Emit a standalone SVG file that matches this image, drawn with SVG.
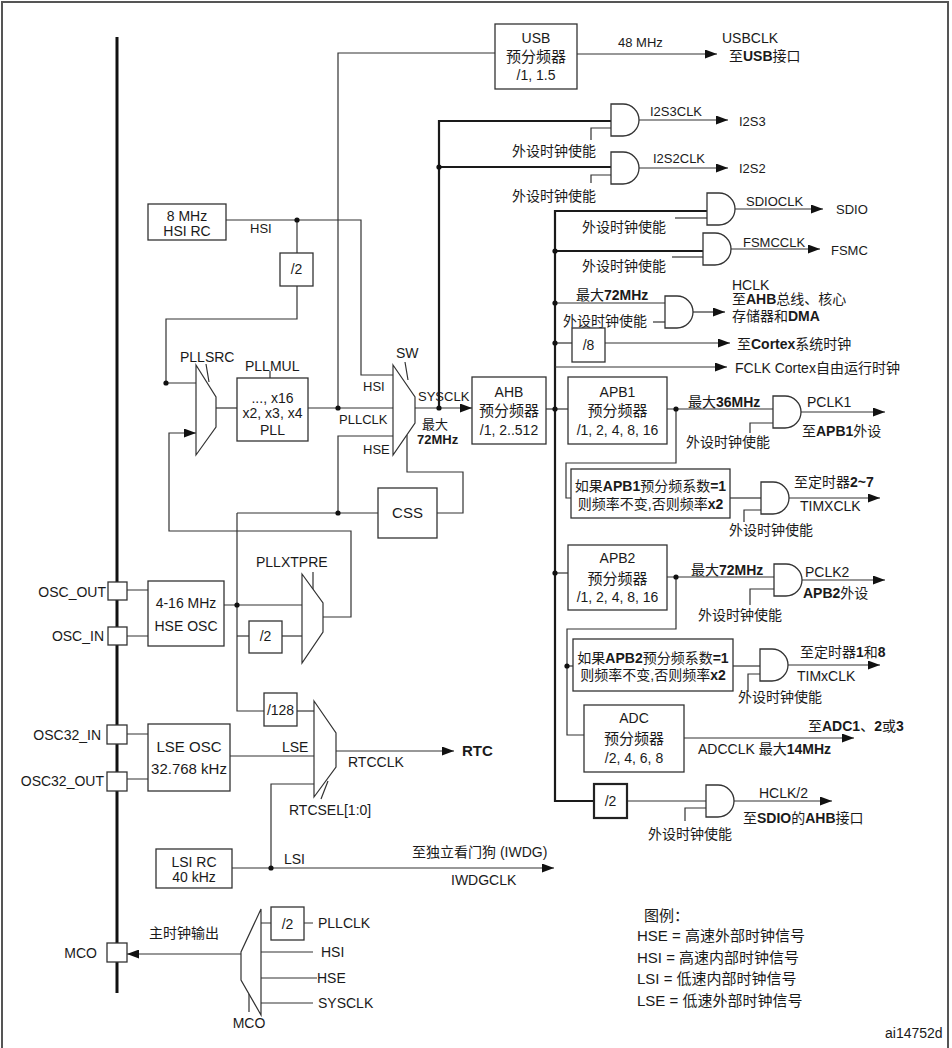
<svg xmlns="http://www.w3.org/2000/svg" width="952" height="1048" viewBox="0 0 952 1048">
<style>
text{font-family:"Liberation Sans","Noto Sans CJK SC",sans-serif;fill:#1a1a1a;font-size:14px}
.s13{font-size:13px}
.s15{font-size:15px}
.b{font-weight:bold}
.m{text-anchor:middle}
.e{text-anchor:end}
.box{fill:#fff;stroke:#333;stroke-width:1.3}
.w{fill:none;stroke:#333;stroke-width:1.2}
.tk{fill:none;stroke:#1a1a1a;stroke-width:2.2}
.a{marker-end:url(#ar)}
.dot{fill:#111}
.g{fill:#fff;stroke:#333;stroke-width:1.3}
.mux{fill:#fff;stroke:#333;stroke-width:1.2}
</style>
<defs>
<marker id="ar" markerUnits="userSpaceOnUse" markerWidth="12" markerHeight="9" refX="12" refY="4.5" orient="auto" viewBox="0 0 12 9"><path d="M0,0 L12,4.5 L0,9 Z" fill="#111"/></marker>
<path id="and" d="M0,-16 H12 A16,16 0 0 1 12,16 H0 Z"/>
</defs>
<rect width="952" height="1048" fill="#fff"/>
<path d="M2,1048 V2 H948 V1048" fill="none" stroke="#555" stroke-width="2"/>
<line x1="117" y1="37" x2="117" y2="993" stroke="#111" stroke-width="3"/>

<g id="connectors">
<path class="w" d="M226,220 H361 V375 H393"/>
<path class="w" d="M297,220 V253"/>
<path class="w" d="M297,286 V319 H166 V383 H196"/>
<path class="w" d="M216,408 H237"/>
<path class="w" d="M308,408 H393"/>
<path class="w" d="M338,408 V53 H495"/>
<path class="w" d="M393,436 H338 V513"/>
<path class="w" d="M237,513 H378"/>
<path class="w" d="M237,513 V711 H264"/>
<path class="w" d="M224,605 H302"/>
<path class="w" d="M237,636 H249"/>
<path class="w" d="M282,636 H302"/>
<path class="w a" d="M323,617 H351 V531 H169 V433 H196"/>
<path class="w" d="M407,435 V472 H463 V513 H437"/>
<path class="w a" d="M415,408 H472"/>
<path class="tk" d="M439,408 V121 H611"/>
<path class="tk" d="M439,167 H611"/>
<path class="w a" d="M577,54 H717"/>
<path class="w" d="M591,140 V128 H611"/>
<path class="w" d="M591,183 V175 H611"/>
<path class="w a" d="M639,120 H728"/>
<path class="w a" d="M639,168 H728"/>
<path class="tk" d="M707,211 H555 V801 H594"/>
<path class="tk" d="M555,251 H703"/>
<path class="w" d="M675,218 H707"/>
<path class="w" d="M672,257 H703"/>
<path class="w a" d="M735,209 H823"/>
<path class="w a" d="M731,249 H820"/>
<path class="w" d="M555,303 H665"/>
<path class="w" d="M653,322 H665"/>
<path class="w a" d="M693,312 H725"/>
<path class="w" d="M555,343 H572"/>
<path class="w a" d="M605,343 H730"/>
<path class="w a" d="M555,367 H727"/>
<path class="w" d="M546,409 H568"/>
<path class="w" d="M667,409 H773"/>
<path class="w" d="M750,433 V423 H773"/>
<path class="w a" d="M801,412 H885"/>
<path class="w" d="M676,409 V463 H566 V498 H571"/>
<path class="w" d="M730,498 H761"/>
<path class="w" d="M744,522 V510 H761"/>
<path class="w a" d="M789,498 H880"/>
<path class="w" d="M555,573 H568"/>
<path class="w" d="M667,577 H774"/>
<path class="w" d="M750,605 V589 H774"/>
<path class="w a" d="M802,580 H885"/>
<path class="w" d="M676,577 V629 H567 V735 H584"/>
<path class="w" d="M567,666 H573"/>
<path class="w" d="M733,666 H760"/>
<path class="w" d="M748,692 V674 H760"/>
<path class="w a" d="M788,665 H880"/>
<path class="w a" d="M684,738 H854"/>
<path class="w" d="M627,801 H706"/>
<path class="w" d="M685,821 V808 H706"/>
<path class="w a" d="M734,801 H832"/>
<path class="w" d="M127,590 H148 M127,636 H148 M127,734 H148 M127,779 H148"/>
<path class="w" d="M230,756 H314"/>
<path class="w" d="M297,711 H314"/>
<path class="w a" d="M336,751 H454"/>
<path class="w a" d="M232,868 H554"/>
<path class="w" d="M271,868 V784 H314"/>
<path class="w a" d="M241,954 H127"/>
<path class="w" d="M261,923 H271 M304,923 H313 M261,952 H313 M261,978 H317 M261,1003 H313"/>
<path class="w" d="M270,378 V371 M206,364 L209,382 M405,362 L408,380 M313,572 V590 M321,799 L328,781 M249,994 V1012"/>
<circle class="dot" cx="297" cy="220" r="2.6"/>
<circle class="dot" cx="166" cy="383" r="2.6"/>
<circle class="dot" cx="338" cy="408" r="2.6"/>
<circle class="dot" cx="338" cy="513" r="2.6"/>
<circle class="dot" cx="237" cy="605" r="2.6"/>
<circle class="dot" cx="439" cy="408" r="2.6"/>
<circle class="dot" cx="439" cy="167" r="2.6"/>
<circle class="dot" cx="555" cy="251" r="2.6"/>
<circle class="dot" cx="555" cy="303" r="2.6"/>
<circle class="dot" cx="555" cy="343" r="2.6"/>
<circle class="dot" cx="555" cy="409" r="2.6"/>
<circle class="dot" cx="676" cy="409" r="2.6"/>
<circle class="dot" cx="555" cy="573" r="2.6"/>
<circle class="dot" cx="676" cy="577" r="2.6"/>
<circle class="dot" cx="567" cy="666" r="2.6"/>
<circle class="dot" cx="271" cy="868" r="2.6"/>
</g>

<g id="usb"><rect class="box" x="495" y="24" width="82" height="65"/>
<text class="m" x="536" y="43">USB</text><text class="m s15" x="536" y="62">预分频器</text><text class="m" x="536" y="80">/1, 1.5</text></g>
<g id="usb-out"><text class="s13" x="618" y="47">48 MHz</text><text x="722" y="43">USBCLK</text><text x="729" y="61">至<tspan class="b">USB</tspan>接口</text></g>

<g id="i2s3"><use href="#and" x="611" y="120" class="g"/><text class="s13" x="650" y="116">I2S3CLK</text><text class="s13" x="739" y="126">I2S3</text><text x="512" y="156">外设时钟使能</text></g>
<g id="i2s2"><use href="#and" x="611" y="168" class="g"/><text class="s13" x="653" y="163">I2S2CLK</text><text class="s13" x="739" y="173">I2S2</text><text x="512" y="201">外设时钟使能</text></g>
<g id="sdio"><use href="#and" x="707" y="209" class="g"/><text class="s13" x="746" y="206">SDIOCLK</text><text class="s13" x="836" y="214">SDIO</text><text x="582" y="232">外设时钟使能</text></g>
<g id="fsmc"><use href="#and" x="703" y="249" class="g"/><text class="s13" x="743" y="247">FSMCCLK</text><text class="s13" x="831" y="255">FSMC</text><text x="582" y="271">外设时钟使能</text></g>
<g id="hclk"><use href="#and" x="665" y="312" class="g"/><text x="576" y="300">最大<tspan class="b">72MHz</tspan></text><text x="563" y="326">外设时钟使能</text>
<text x="732" y="290">HCLK</text><text x="732" y="304">至<tspan class="b">AHB</tspan>总线、核心</text><text x="732" y="321">存储器和<tspan class="b">DMA</tspan></text></g>
<g id="div8"><rect class="box" x="572" y="328" width="33" height="34"/><text class="m" x="588.5" y="350">/8</text><text x="737" y="349">至<tspan class="b">Cortex</tspan>系统时钟</text></g>
<g id="fclk"><text x="735" y="373">FCLK Cortex自由运行时钟</text></g>

<g id="hsirc"><rect class="box" x="148" y="204" width="78" height="36"/><text class="m" x="187" y="221">8 MHz</text><text class="m" x="187" y="236">HSI RC</text><text class="s13" x="250" y="233">HSI</text></g>
<g id="hsidiv2"><rect class="box" x="280" y="253" width="33" height="33"/><text class="m" x="296.5" y="274">/2</text></g>
<g id="pllsrc"><path class="mux" d="M196,365 L216,397 V427 L196,455 Z"/><text x="180" y="362">PLLSRC</text></g>
<g id="pll"><rect class="box" x="237" y="378" width="71" height="63"/><text class="m" x="272.5" y="403">..., x16</text><text class="m" x="272.5" y="418">x2, x3, x4</text><text class="m" x="272.5" y="435">PLL</text><text x="245" y="371">PLLMUL</text></g>
<g id="sw"><path class="mux" d="M393,365 L415,397 V423 L393,455 Z"/><text x="396" y="358">SW</text>
<text class="s13" x="363" y="391">HSI</text><text class="s13" x="339" y="424">PLLCLK</text><text class="s13" x="363" y="454">HSE</text>
<text class="s13" x="418" y="401">SYSCLK</text><text class="s13" x="422" y="429">最大</text><text class="s13 b" x="417" y="444">72MHz</text></g>
<g id="css"><rect class="box" x="378" y="488" width="59" height="50"/><text class="m s15" x="407.5" y="518">CSS</text></g>

<g id="ahb"><rect class="box" x="472" y="377" width="74" height="67"/><text class="m" x="509" y="397">AHB</text><text class="m s15" x="509" y="416">预分频器</text><text class="m" x="509" y="435">/1, 2..512</text></g>
<g id="apb1"><rect class="box" x="568" y="377" width="99" height="67"/><text class="m" x="617.5" y="397">APB1</text><text class="m s15" x="617.5" y="416">预分频器</text><text class="m" x="617.5" y="435">/1, 2, 4, 8, 16</text></g>
<g id="pclk1"><use href="#and" x="773" y="412" class="g"/><text x="688" y="407">最大<tspan class="b">36MHz</tspan></text><text x="807" y="407">PCLK1</text><text x="802" y="436">至<tspan class="b">APB1</tspan>外设</text><text x="686" y="447">外设时钟使能</text></g>
<g id="tim1sel"><rect class="box" x="571" y="469" width="159" height="49"/><text class="m" x="650.5" y="491">如果<tspan class="b">APB1</tspan>预分频系数<tspan class="b">=1</tspan></text><text class="m" x="650.5" y="509">则频率不变,否则频率<tspan class="b">x2</tspan></text></g>
<g id="tim27"><use href="#and" x="761" y="498" class="g"/><text x="794" y="487">至定时器<tspan class="b">2~7</tspan></text><text x="800" y="511">TIMXCLK</text><text x="729" y="535">外设时钟使能</text></g>

<g id="hseosc"><rect class="box" x="148" y="581" width="76" height="65"/><text class="m" x="186" y="608">4-16 MHz</text><text class="m" x="186" y="631">HSE OSC</text></g>
<g id="osc-pins"><rect class="box" x="108" y="582" width="19" height="18"/><rect class="box" x="108" y="627" width="19" height="18"/><text class="e" x="106" y="597">OSC_OUT</text><text class="e" x="104" y="641">OSC_IN</text></g>
<g id="pllxtpre"><path class="mux" d="M302,574 L323,603 V632 L302,663 Z"/><text x="256" y="567">PLLXTPRE</text></g>
<g id="hsediv2"><rect class="box" x="249" y="621" width="33" height="32"/><text class="m" x="265.5" y="641">/2</text></g>

<g id="apb2"><rect class="box" x="568" y="545" width="99" height="65"/><text class="m" x="617.5" y="563">APB2</text><text class="m s15" x="617.5" y="584">预分频器</text><text class="m" x="617.5" y="602">/1, 2, 4, 8, 16</text></g>
<g id="pclk2"><use href="#and" x="774" y="580" class="g"/><text x="691" y="575">最大<tspan class="b">72MHz</tspan></text><text x="805" y="577">PCLK2</text><text x="803" y="598"><tspan class="b">APB2</tspan>外设</text><text x="698" y="620">外设时钟使能</text></g>
<g id="tim2sel"><rect class="box" x="573" y="639" width="160" height="52"/><text class="m" x="653" y="663">如果<tspan class="b">APB2</tspan>预分频系数<tspan class="b">=1</tspan></text><text class="m" x="653" y="680">则频率不变,否则频率<tspan class="b">x2</tspan></text></g>
<g id="tim18"><use href="#and" x="760" y="665" class="g"/><text x="800" y="657">至定时器<tspan class="b">1</tspan>和<tspan class="b">8</tspan></text><text x="797" y="681">TIMxCLK</text><text x="738" y="702">外设时钟使能</text></g>
<g id="adc"><rect class="box" x="584" y="705" width="100" height="67"/><text class="m" x="634" y="723">ADC</text><text class="m s15" x="634" y="744">预分频器</text><text class="m" x="634" y="763">/2, 4, 6, 8</text>
<text x="808" y="731">至<tspan class="b">ADC1</tspan>、<tspan class="b">2</tspan>或<tspan class="b">3</tspan></text><text x="698" y="754">ADCCLK  最大<tspan class="b">14MHz</tspan></text></g>
<g id="hclkdiv2"><rect x="594" y="784" width="33" height="34" fill="#fff" stroke="#222" stroke-width="2.2"/><text class="m" x="610.5" y="806">/2</text></g>
<g id="hclk2"><use href="#and" x="706" y="801" class="g"/><text x="759" y="798">HCLK/2</text><text x="743" y="823">至<tspan class="b">SDIO</tspan>的<tspan class="b">AHB</tspan>接口</text><text x="648" y="839">外设时钟使能</text></g>

<g id="div128"><rect class="box" x="264" y="693" width="33" height="33"/><text class="m" x="280.5" y="715">/128</text></g>
<g id="lseosc"><rect class="box" x="148" y="724" width="82" height="67"/><text class="m s15" x="189" y="752">LSE OSC</text><text class="m s15" x="189" y="774">32.768 kHz</text><text x="282" y="752">LSE</text></g>
<g id="osc32-pins"><rect class="box" x="107" y="725" width="20" height="19"/><rect class="box" x="107" y="772" width="20" height="19"/><text class="e" x="101" y="740">OSC32_IN</text><text class="e" x="104" y="786">OSC32_OUT</text></g>
<g id="rtcmux"><path class="mux" d="M314,701 L336,733 V767 L314,797 Z"/><text x="348" y="767">RTCCLK</text><text class="b s15" x="462" y="756">RTC</text><text x="289" y="815">RTCSEL[1:0]</text></g>
<g id="lsirc"><rect class="box" x="156" y="849" width="76" height="39"/><text class="m" x="194" y="867">LSI RC</text><text class="m" x="194" y="882">40 kHz</text><text x="284" y="864">LSI</text>
<text x="412" y="857">至独立看门狗 (IWDG)</text><text x="451" y="885">IWDGCLK</text></g>

<g id="mco"><rect class="box" x="107" y="943" width="20" height="19"/><text class="e" x="97" y="958">MCO</text><text x="149" y="938">主时钟输出</text>
<path class="mux" d="M261,909 L241,952 V980 L261,1015 Z"/>
<rect class="box" x="271" y="907" width="33" height="33"/><text class="m" x="287.5" y="929">/2</text>
<text x="318" y="928">PLLCLK</text><text x="321" y="957">HSI</text><text x="317" y="983">HSE</text><text x="318" y="1008">SYSCLK</text><text class="m" x="249" y="1028">MCO</text></g>

<g id="legend"><text class="s15" x="644" y="921">图例：</text><text class="s15" x="637" y="941">HSE = 高速外部时钟信号</text><text class="s15" x="637" y="963">HSI = 高速内部时钟信号</text><text class="s15" x="637" y="984">LSI = 低速内部时钟信号</text><text class="s15" x="637" y="1006">LSE = 低速外部时钟信号</text>
<text x="885" y="1038">ai14752d</text></g>
</svg>
